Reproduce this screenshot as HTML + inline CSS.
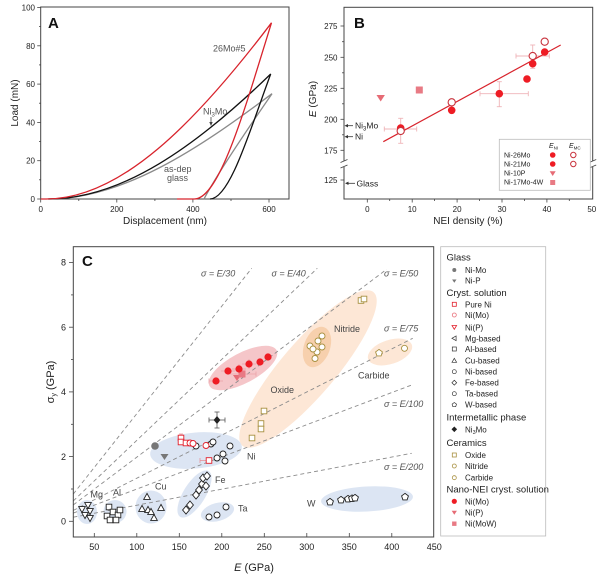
<!DOCTYPE html>
<html><head><meta charset="utf-8"><style>
html,body{margin:0;padding:0;background:#fff;}
svg{display:block;font-family:"Liberation Sans",Arial,sans-serif;}
</style></head><body>
<svg width="600" height="577" viewBox="0 0 600 577" xmlns="http://www.w3.org/2000/svg">
<defs>
<circle id="ci" r="3"/>
<rect id="sq" x="-2.8" y="-2.8" width="5.6" height="5.6"/>
<polygon id="tu" points="0,-3.6 3.3,2.4 -3.3,2.4"/>
<polygon id="td" points="0,3.6 3.3,-2.4 -3.3,-2.4"/>
<polygon id="tl" points="-3.6,0 2.4,-3.3 2.4,3.3"/>
<polygon id="di" points="0,-4 3.4,0 0,4 -3.4,0"/>
<polygon id="pe" points="0,-3.6 3.4,-1.1 2.1,2.9 -2.1,2.9 -3.4,-1.1"/>
</defs>
<rect width="600" height="577" fill="#fff"/>

<!-- ================= PANEL A ================= -->
<g>
<rect x="40.7" y="7" width="248.3" height="192" fill="none" stroke="#444" stroke-width="1"/>
<g stroke="#444" stroke-width="0.8">
<line x1="40.7" y1="199" x2="40.7" y2="202.5"/><line x1="116.8" y1="199" x2="116.8" y2="202.5"/>
<line x1="192.9" y1="199" x2="192.9" y2="202.5"/><line x1="269" y1="199" x2="269" y2="202.5"/>
<line x1="78.8" y1="199" x2="78.8" y2="201"/><line x1="154.9" y1="199" x2="154.9" y2="201"/><line x1="231" y1="199" x2="231" y2="201"/>
<line x1="37.2" y1="199" x2="40.7" y2="199"/><line x1="37.2" y1="160.7" x2="40.7" y2="160.7"/>
<line x1="37.2" y1="122.4" x2="40.7" y2="122.4"/><line x1="37.2" y1="84.1" x2="40.7" y2="84.1"/>
<line x1="37.2" y1="45.8" x2="40.7" y2="45.8"/><line x1="37.2" y1="7.5" x2="40.7" y2="7.5"/>
<line x1="39" y1="179.8" x2="40.7" y2="179.8"/><line x1="39" y1="141.5" x2="40.7" y2="141.5"/>
<line x1="39" y1="103.2" x2="40.7" y2="103.2"/><line x1="39" y1="64.9" x2="40.7" y2="64.9"/><line x1="39" y1="26.6" x2="40.7" y2="26.6"/>
</g>
<g font-size="8" fill="#222" text-anchor="end">
<text x="35" y="202">0</text><text x="35" y="163.7">20</text><text x="35" y="125.4">40</text>
<text x="35" y="87.1">60</text><text x="35" y="48.8">80</text><text x="35" y="10.5">100</text>
</g>
<g font-size="8" fill="#222" text-anchor="middle">
<text x="40.7" y="212">0</text><text x="116.8" y="212">200</text><text x="192.9" y="212">400</text><text x="269" y="212">600</text>
</g>
<text x="165" y="224" font-size="10" fill="#222" text-anchor="middle">Displacement (nm)</text>
<text transform="translate(18,103) rotate(-90)" font-size="10" fill="#222" text-anchor="middle">Load (mN)</text>
<text x="48" y="28" font-size="15" font-weight="bold" fill="#111">A</text>

<!-- curves -->
<g fill="none" stroke-width="1.3">
<path d="M48.3,199 C122.9,199 197.4,149.8 272,93.7 C240,140 214,180 204,199" stroke="#8a8a8a"/>
<path d="M48.3,199 C121.9,199 195.4,147.1 270.7,74 C250.5,128.1 230.2,199 210,199" stroke="#111"/>
<path d="M40.7,199 L46.4,199 C120.6,199 194.8,123.8 271.5,22.8 C245.8,105.2 220,199 194.3,199 L177,199" stroke="#d8232c"/>
</g>
<g font-size="9" fill="#555">
<text x="213" y="51.5">26Mo#5</text>
<text x="203" y="114.5">Ni<tspan font-size="6" dy="2">3</tspan><tspan dy="-2">Mo</tspan></text>
<text x="164" y="172">as-dep</text>
<text x="167" y="181">glass</text>
</g>
<line x1="211" y1="117" x2="211" y2="124" stroke="#444" stroke-width="0.8"/>
<polygon points="209.3,122 212.7,122 211,126" fill="#444"/>
</g>

<!-- ================= PANEL B ================= -->
<g>
<rect x="344" y="7.3" width="248.7" height="191.7" fill="none" stroke="#444" stroke-width="1"/>
<rect x="340" y="161" width="8" height="6" fill="#fff"/>
<rect x="588.7" y="161" width="8" height="6" fill="#fff"/>
<g stroke="#444" stroke-width="0.9">
<line x1="340.5" y1="162.5" x2="347.5" y2="159.5"/><line x1="340.5" y1="168" x2="347.5" y2="165"/>
<line x1="589.2" y1="162.5" x2="596.2" y2="159.5"/><line x1="589.2" y1="168" x2="596.2" y2="165"/>
</g>
<g stroke="#444" stroke-width="0.8">
<line x1="340.5" y1="26" x2="344" y2="26"/><line x1="340.5" y1="57.3" x2="344" y2="57.3"/>
<line x1="340.5" y1="88.3" x2="344" y2="88.3"/><line x1="340.5" y1="119.3" x2="344" y2="119.3"/>
<line x1="340.5" y1="150.3" x2="344" y2="150.3"/><line x1="340.5" y1="180" x2="344" y2="180"/>
<line x1="342" y1="41.7" x2="344" y2="41.7"/><line x1="342" y1="72.8" x2="344" y2="72.8"/>
<line x1="342" y1="103.8" x2="344" y2="103.8"/><line x1="342" y1="134.8" x2="344" y2="134.8"/>
<line x1="367.3" y1="199" x2="367.3" y2="202.5"/><line x1="412.2" y1="199" x2="412.2" y2="202.5"/>
<line x1="457.1" y1="199" x2="457.1" y2="202.5"/><line x1="502" y1="199" x2="502" y2="202.5"/>
<line x1="546.9" y1="199" x2="546.9" y2="202.5"/>
<line x1="389.7" y1="199" x2="389.7" y2="201"/><line x1="434.6" y1="199" x2="434.6" y2="201"/>
<line x1="479.5" y1="199" x2="479.5" y2="201"/><line x1="524.4" y1="199" x2="524.4" y2="201"/><line x1="569.3" y1="199" x2="569.3" y2="201"/>
</g>
<g font-size="8" fill="#222" text-anchor="end">
<text x="337.5" y="29">275</text><text x="337.5" y="60.3">250</text><text x="337.5" y="91.3">225</text>
<text x="337.5" y="122.3">200</text><text x="337.5" y="153.3">175</text><text x="337.5" y="183">125</text>
</g>
<g font-size="8" fill="#222" text-anchor="middle">
<text x="367.3" y="212">0</text><text x="412.2" y="212">10</text><text x="457.1" y="212">20</text>
<text x="502" y="212">30</text><text x="546.9" y="212">40</text><text x="591.8" y="212">50</text>
</g>
<text x="468" y="224" font-size="10" fill="#222" text-anchor="middle">NEI density (%)</text>
<text transform="translate(316,99) rotate(-90)" font-size="10" fill="#222" text-anchor="middle"><tspan font-style="italic">E</tspan> (GPa)</text>
<text x="354" y="28" font-size="15" font-weight="bold" fill="#111">B</text>

<!-- arrows -->
<g stroke="#333" stroke-width="0.8">
<line x1="346" y1="125.7" x2="353" y2="125.7"/><line x1="346" y1="136.7" x2="353" y2="136.7"/><line x1="347" y1="183.3" x2="355" y2="183.3"/>
</g>
<g fill="#333">
<polygon points="344.5,125.7 348,124 348,127.4"/><polygon points="344.5,136.7 348,135 348,138.4"/><polygon points="345,183.3 348.5,181.6 348.5,185"/>
</g>
<g font-size="8.5" fill="#222">
<text x="355" y="128.7">Ni<tspan font-size="6" dy="2">3</tspan><tspan dy="-2">Mo</tspan></text>
<text x="355" y="139.7">Ni</text>
<text x="356.5" y="186.3">Glass</text>
</g>

<!-- error bars -->
<g stroke="#efb4b8" stroke-width="0.9">
<line x1="384.3" y1="129" x2="416.7" y2="129"/><line x1="384.3" y1="126.5" x2="384.3" y2="131.5"/><line x1="416.7" y1="126.5" x2="416.7" y2="131.5"/>
<line x1="400.7" y1="118.3" x2="400.7" y2="143.3"/><line x1="398.2" y1="118.3" x2="403.2" y2="118.3"/><line x1="398.2" y1="143.3" x2="403.2" y2="143.3"/>
<line x1="480" y1="93.7" x2="528.3" y2="93.7"/><line x1="480" y1="91.2" x2="480" y2="96.2"/><line x1="528.3" y1="91.2" x2="528.3" y2="96.2"/>
<line x1="499.3" y1="81.7" x2="499.3" y2="106.7"/><line x1="496.8" y1="81.7" x2="501.8" y2="81.7"/><line x1="496.8" y1="106.7" x2="501.8" y2="106.7"/>
<line x1="516" y1="56" x2="549.3" y2="56"/><line x1="516" y1="53.5" x2="516" y2="58.5"/><line x1="549.3" y1="53.5" x2="549.3" y2="58.5"/>
<line x1="532.7" y1="45" x2="532.7" y2="68.3"/><line x1="530.2" y1="45" x2="535.2" y2="45"/><line x1="530.2" y1="68.3" x2="535.2" y2="68.3"/>
</g>
<line x1="383.3" y1="141.7" x2="560.7" y2="45" stroke="#d8232c" stroke-width="1.2"/>
<g fill="#ee1c24">
<circle cx="400.7" cy="128" r="3.8"/><circle cx="451.7" cy="110.3" r="3.8"/><circle cx="499.3" cy="93.7" r="3.8"/>
<circle cx="527" cy="79" r="3.8"/><circle cx="532.7" cy="63.7" r="3.8"/><circle cx="544.7" cy="52" r="3.8"/>
</g>
<g fill="#fff" stroke="#c8323c" stroke-width="1.1">
<circle cx="400.7" cy="131" r="3.6"/><circle cx="451.7" cy="102.3" r="3.6"/><circle cx="532.7" cy="56" r="3.6"/><circle cx="544.7" cy="41.7" r="3.6"/>
</g>
<polygon points="376.5,95 384.9,95 380.7,101.5" fill="#e66b75"/>
<rect x="415.8" y="86.5" width="7" height="7" fill="#e87a84"/>

<!-- legend B -->
<rect x="499.3" y="139.3" width="91" height="51" fill="#fff" stroke="#bbb" stroke-width="0.8"/>
<g font-size="7" fill="#222">
<text x="504" y="157.5">Ni-26Mo</text><text x="504" y="166.5">Ni-21Mo</text>
<text x="504" y="175.5">Ni-10P</text><text x="504" y="184.5">Ni-17Mo-4W</text>
</g>
<g font-size="7" fill="#222" font-style="italic">
<text x="549" y="148">E<tspan font-size="4.5" dy="1.5" font-style="normal">NI</tspan></text>
<text x="569" y="148">E<tspan font-size="4.5" dy="1.5" font-style="normal">MC</tspan></text>
</g>
<circle cx="552.7" cy="155" r="2.8" fill="#ee1c24"/><circle cx="552.7" cy="164" r="2.8" fill="#ee1c24"/>
<circle cx="573.3" cy="155" r="2.7" fill="#fff" stroke="#c8323c"/><circle cx="573.3" cy="164" r="2.7" fill="#fff" stroke="#c8323c"/>
<polygon points="549.7,171.3 555.7,171.3 552.7,176" fill="#e66b75"/>
<rect x="550.2" y="180" width="5" height="5" fill="#e87a84"/>
</g>

<!-- ================= PANEL C ================= -->
<g>
<!-- ellipses -->
<g>
<ellipse cx="308" cy="369" rx="101" ry="27" transform="rotate(-49.5 308 369)" fill="#fde7d6"/>
<ellipse cx="317" cy="347" rx="21" ry="13" transform="rotate(-70 317 347)" fill="#f7d0ad"/>
<ellipse cx="390" cy="352" rx="23" ry="12" transform="rotate(-18 390 352)" fill="#fde7d6"/>
<ellipse cx="243" cy="368" rx="38" ry="15" transform="rotate(-28 243 368)" fill="#f5c6c9"/>
<ellipse cx="196" cy="450.5" rx="46" ry="18" transform="rotate(-5 196 450.5)" fill="#dce5f3"/>
<ellipse cx="87" cy="512" rx="10" ry="12" fill="#dce5f3"/>
<ellipse cx="115" cy="511.5" rx="11.5" ry="11.5" fill="#dce5f3"/>
<ellipse cx="151" cy="507" rx="15.5" ry="16.5" fill="#dce5f3"/>
<ellipse cx="194.5" cy="494" rx="27" ry="11" transform="rotate(-58 194.5 494)" fill="#dce5f3"/>
<ellipse cx="217.5" cy="512" rx="17" ry="9" transform="rotate(-15 217.5 512)" fill="#dce5f3"/>
<ellipse cx="367" cy="499" rx="46" ry="12.5" transform="rotate(-3 367 499)" fill="#dce5f3"/>
</g>
<!-- dashed lines -->
<g stroke="#8c8c8c" stroke-width="0.9" stroke-dasharray="4,3" fill="none">
<line x1="73.3" y1="494" x2="251.7" y2="268.3"/>
<line x1="73.3" y1="500.9" x2="317.3" y2="268.3"/>
<line x1="73.3" y1="504.9" x2="386.7" y2="269.3"/>
<line x1="73.3" y1="510.4" x2="412.7" y2="338.3"/>
<line x1="73.3" y1="513.1" x2="411.7" y2="385"/>
<line x1="73.3" y1="517.2" x2="411.7" y2="453.3"/>
</g>
<g font-size="9" fill="#555" font-style="italic">
<text x="201" y="276.5">σ = E/30</text>
<text x="271.5" y="276.5">σ = E/40</text>
<text x="384" y="276.5">σ = E/50</text>
<text x="384" y="331.5">σ = E/75</text>
<text x="384" y="407">σ = E/100</text>
<text x="384" y="470">σ = E/200</text>
</g>
<rect x="73.3" y="246.7" width="360.4" height="290.3" fill="none" stroke="#444" stroke-width="1"/>
<!-- ticks -->
<g stroke="#444" stroke-width="0.8">
<line x1="69" y1="521.3" x2="73.3" y2="521.3"/><line x1="69" y1="456.6" x2="73.3" y2="456.6"/>
<line x1="69" y1="391.9" x2="73.3" y2="391.9"/><line x1="69" y1="327.2" x2="73.3" y2="327.2"/><line x1="69" y1="262.5" x2="73.3" y2="262.5"/>
<line x1="71" y1="489" x2="73.3" y2="489"/><line x1="71" y1="424.3" x2="73.3" y2="424.3"/>
<line x1="71" y1="359.6" x2="73.3" y2="359.6"/><line x1="71" y1="294.9" x2="73.3" y2="294.9"/>
<line x1="94.3" y1="533" x2="94.3" y2="537"/><line x1="136.8" y1="533" x2="136.8" y2="537"/>
<line x1="179.3" y1="533" x2="179.3" y2="537"/><line x1="221.8" y1="533" x2="221.8" y2="537"/>
<line x1="264.3" y1="533" x2="264.3" y2="537"/><line x1="306.8" y1="533" x2="306.8" y2="537"/>
<line x1="349.3" y1="533" x2="349.3" y2="537"/><line x1="391.8" y1="533" x2="391.8" y2="537"/>
</g>
<g font-size="9" fill="#222" text-anchor="end">
<text x="66" y="524.5">0</text><text x="66" y="459.8">2</text><text x="66" y="395.1">4</text>
<text x="66" y="330.4">6</text><text x="66" y="265.7">8</text>
</g>
<g font-size="9" fill="#222" text-anchor="middle">
<text x="94.3" y="550">50</text><text x="136.8" y="550">100</text><text x="179.3" y="550">150</text>
<text x="221.8" y="550">200</text><text x="264.3" y="550">250</text><text x="306.8" y="550">300</text>
<text x="349.3" y="550">350</text><text x="391.8" y="550">400</text><text x="434.3" y="550">450</text>
</g>
<text x="254" y="571" font-size="11" fill="#222" text-anchor="middle"><tspan font-style="italic">E</tspan> (GPa)</text>
<text transform="translate(54,382) rotate(-90)" font-size="11" fill="#222" text-anchor="middle">σ<tspan font-size="7" dy="2">y</tspan><tspan dy="-2"> (GPa)</tspan></text>
<text x="82" y="266" font-size="15" font-weight="bold" fill="#111">C</text>

<!-- region labels -->
<g font-size="9" fill="#444">
<text x="90.5" y="497.5">Mg</text><text x="113" y="495.5">Al</text><text x="155" y="489.5">Cu</text>
<text x="215" y="483">Fe</text><text x="247" y="459.5">Ni</text><text x="238" y="511.5">Ta</text>
<text x="307" y="506.5">W</text><text x="270.5" y="393">Oxide</text><text x="334" y="332">Nitride</text><text x="358" y="378.5">Carbide</text>
</g>

<!-- data points -->
<g fill="#fff" stroke="#222" stroke-width="0.9">
<use href="#td" x="88" y="505"/><use href="#td" x="82" y="509"/><use href="#td" x="90" y="511"/><use href="#td" x="85" y="515"/><use href="#td" x="90" y="518"/>
<use href="#sq" x="109" y="507"/><use href="#sq" x="113" y="512"/><use href="#sq" x="107" y="516"/><use href="#sq" x="118" y="515"/><use href="#sq" x="116" y="520"/><use href="#sq" x="120" y="510"/><use href="#sq" x="110" y="520"/>
<use href="#tu" x="147" y="497"/><use href="#tu" x="142" y="509"/><use href="#tu" x="148" y="510"/><use href="#tu" x="151" y="512"/><use href="#tu" x="154" y="518"/><use href="#tu" x="161" y="508"/>
<use href="#di" x="186" y="510"/><use href="#di" x="190" y="505"/><use href="#di" x="196" y="495"/><use href="#di" x="199" y="490"/><use href="#di" x="202" y="484"/><use href="#di" x="203" y="478"/><use href="#di" x="207" y="476"/><use href="#di" x="206" y="486"/>
<use href="#ci" x="209" y="517"/><use href="#ci" x="217" y="515"/><use href="#ci" x="226" y="507"/>
<use href="#ci" x="196" y="446"/><use href="#ci" x="211" y="444"/><use href="#ci" x="213" y="442"/><use href="#ci" x="230" y="446"/><use href="#ci" x="217" y="458"/><use href="#ci" x="223" y="454"/><use href="#ci" x="225" y="461"/>
<use href="#pe" x="330" y="502"/><use href="#pe" x="341" y="500"/><use href="#pe" x="348" y="499"/><use href="#pe" x="352" y="498.5"/><use href="#pe" x="355" y="498"/><use href="#pe" x="405" y="497"/>
</g>
<g fill="#fff" stroke="#a89040" stroke-width="0.9">
<use href="#sq" x="252" y="438"/><use href="#sq" x="261" y="423.5"/><use href="#sq" x="261" y="429"/><use href="#sq" x="264" y="411"/><use href="#sq" x="361" y="300.5"/><use href="#sq" x="364" y="299"/>
<use href="#ci" x="322" y="336"/><use href="#ci" x="318" y="341"/><use href="#ci" x="310" y="346"/><use href="#ci" x="322" y="347"/><use href="#ci" x="317" y="352"/><use href="#ci" x="315" y="358.5"/><use href="#ci" x="313" y="349"/>
<use href="#pe" x="379" y="353"/><use href="#ci" x="404.5" y="348.3"/>
</g>
<!-- pure Ni / Ni(Mo) red open -->
<g stroke="#e8949a" stroke-width="0.8">
<line x1="200" y1="460.5" x2="209" y2="460.5"/><line x1="200" y1="458" x2="200" y2="463"/>
<line x1="181" y1="434" x2="181" y2="438"/><line x1="179" y1="434" x2="183" y2="434"/>
</g>
<g fill="#fff" stroke="#e21f2b" stroke-width="0.9">
<use href="#sq" x="181" y="438"/><use href="#sq" x="181" y="442"/><use href="#sq" x="186" y="443"/><use href="#sq" x="209" y="460.5"/>
<use href="#ci" x="190" y="443"/><use href="#ci" x="193" y="443.5"/><use href="#ci" x="206" y="445.5"/>
</g>
<!-- glass -->
<circle cx="155" cy="446" r="3.8" fill="#777"/>
<polygon points="160.5,454 168.5,454 164.5,460" fill="#777"/>
<!-- Ni3Mo -->
<g stroke="#555" stroke-width="0.8">
<line x1="209" y1="420" x2="225" y2="420"/><line x1="209" y1="417.5" x2="209" y2="422.5"/><line x1="225" y1="417.5" x2="225" y2="422.5"/>
<line x1="217" y1="412" x2="217" y2="428"/><line x1="214.5" y1="412" x2="219.5" y2="412"/><line x1="214.5" y1="428" x2="219.5" y2="428"/>
</g>
<use href="#di" x="217" y="420" fill="#222"/>
<!-- nano NEI -->
<g stroke="#eba3a8" stroke-width="0.8">
<line x1="209" y1="381" x2="223" y2="381"/><line x1="209" y1="378.5" x2="209" y2="383.5"/>
<line x1="221" y1="371" x2="235" y2="371"/><line x1="232" y1="369" x2="246" y2="369"/>
<line x1="242" y1="364" x2="256" y2="364"/><line x1="228" y1="374" x2="256" y2="374"/><line x1="256" y1="371.5" x2="256" y2="376.5"/>
<line x1="239" y1="364" x2="239" y2="374"/><line x1="249" y1="359" x2="249" y2="369"/>
</g>
<polygon points="233,375 241,375 237,381" fill="#e66b75"/>
<rect x="238.5" y="370.5" width="7" height="7" fill="#e87a84"/>
<g fill="#ee1c24">
<circle cx="216" cy="381" r="3.6"/><circle cx="228" cy="371" r="3.6"/><circle cx="239" cy="369" r="3.6"/>
<circle cx="249" cy="364" r="3.6"/><circle cx="260" cy="362" r="3.6"/><circle cx="268" cy="357" r="3.6"/>
</g>

<!-- legend C -->
<rect x="440.7" y="246.7" width="105" height="289.3" fill="#fff" stroke="#bbb" stroke-width="0.8"/>
<g font-size="9.5" fill="#222">
<text x="446.5" y="260.5">Glass</text>
<text x="446.5" y="296">Cryst. solution</text>
<text x="446.5" y="420.5">Intermetallic phase</text>
<text x="446.5" y="446">Ceramics</text>
<text x="446.5" y="492.5">Nano-NEI cryst. solution</text>
</g>
<g font-size="8" fill="#222">
<text x="465" y="273">Ni-Mo</text><text x="465" y="283.7">Ni-P</text>
<text x="465" y="307.3">Pure Ni</text><text x="465" y="318">Ni(Mo)</text><text x="465" y="330.3">Ni(P)</text>
<text x="465" y="341.3">Mg-based</text><text x="465" y="352">Al-based</text><text x="465" y="363.7">Cu-based</text>
<text x="465" y="374.7">Ni-based</text><text x="465" y="385.7">Fe-based</text><text x="465" y="396.7">Ta-based</text><text x="465" y="407.7">W-based</text>
<text x="465" y="432.3">Ni<tspan font-size="5.5" dy="1.5">3</tspan><tspan dy="-1.5">Mo</tspan></text>
<text x="465" y="458">Oxide</text><text x="465" y="469">Nitride</text><text x="465" y="480.7">Carbide</text>
<text x="465" y="504.3">Ni(Mo)</text><text x="465" y="515.7">Ni(P)</text><text x="465" y="526.7">Ni(MoW)</text>
</g>
<g transform="translate(454.3,0)">
<circle cx="0" cy="270" r="2" fill="#777"/>
<polygon points="-2.2,279.5 2.2,279.5 0,282.8" fill="#777"/>
<rect x="-2" y="302.3" width="4" height="4" fill="#fff" stroke="#e21f2b" stroke-width="0.8"/>
<circle cx="0" cy="315" r="2" fill="#fff" stroke="#e8707a" stroke-width="0.8"/>
<polygon points="-2.3,325.5 2.3,325.5 0,329.3" fill="#fff" stroke="#e21f2b" stroke-width="0.8"/>
<polygon points="-2.4,338.3 1.8,336 1.8,340.6" fill="#fff" stroke="#333" stroke-width="0.7"/>
<rect x="-2" y="347" width="4" height="4" fill="#fff" stroke="#333" stroke-width="0.7"/>
<polygon points="0,358.3 2.3,362.3 -2.3,362.3" fill="#fff" stroke="#333" stroke-width="0.7"/>
<circle cx="0" cy="371.7" r="2" fill="#fff" stroke="#333" stroke-width="0.7"/>
<polygon points="0,380.3 2.4,382.7 0,385.1 -2.4,382.7" fill="#fff" stroke="#333" stroke-width="0.7"/>
<circle cx="0" cy="393.7" r="2" fill="#fff" stroke="#333" stroke-width="0.7"/>
<polygon points="0,402.5 2.2,404.1 1.4,406.7 -1.4,406.7 -2.2,404.1" fill="#fff" stroke="#333" stroke-width="0.7"/>
<polygon points="0,426.5 2.8,429.3 0,432.1 -2.8,429.3" fill="#222"/>
<rect x="-2" y="453" width="4" height="4" fill="#fff" stroke="#a89040" stroke-width="0.8"/>
<circle cx="0" cy="466" r="2" fill="#fff" stroke="#a89040" stroke-width="0.8"/>
<circle cx="0" cy="477.7" r="2" fill="#fff" stroke="#a89040" stroke-width="0.8"/>
<circle cx="0" cy="501.3" r="2.6" fill="#ee1c24"/>
<polygon points="-2.6,510.8 2.6,510.8 0,514.8" fill="#e66b75"/>
<rect x="-2.2" y="521.5" width="4.4" height="4.4" fill="#e87a84"/>
</g>
</g>
</svg>
</body></html>
